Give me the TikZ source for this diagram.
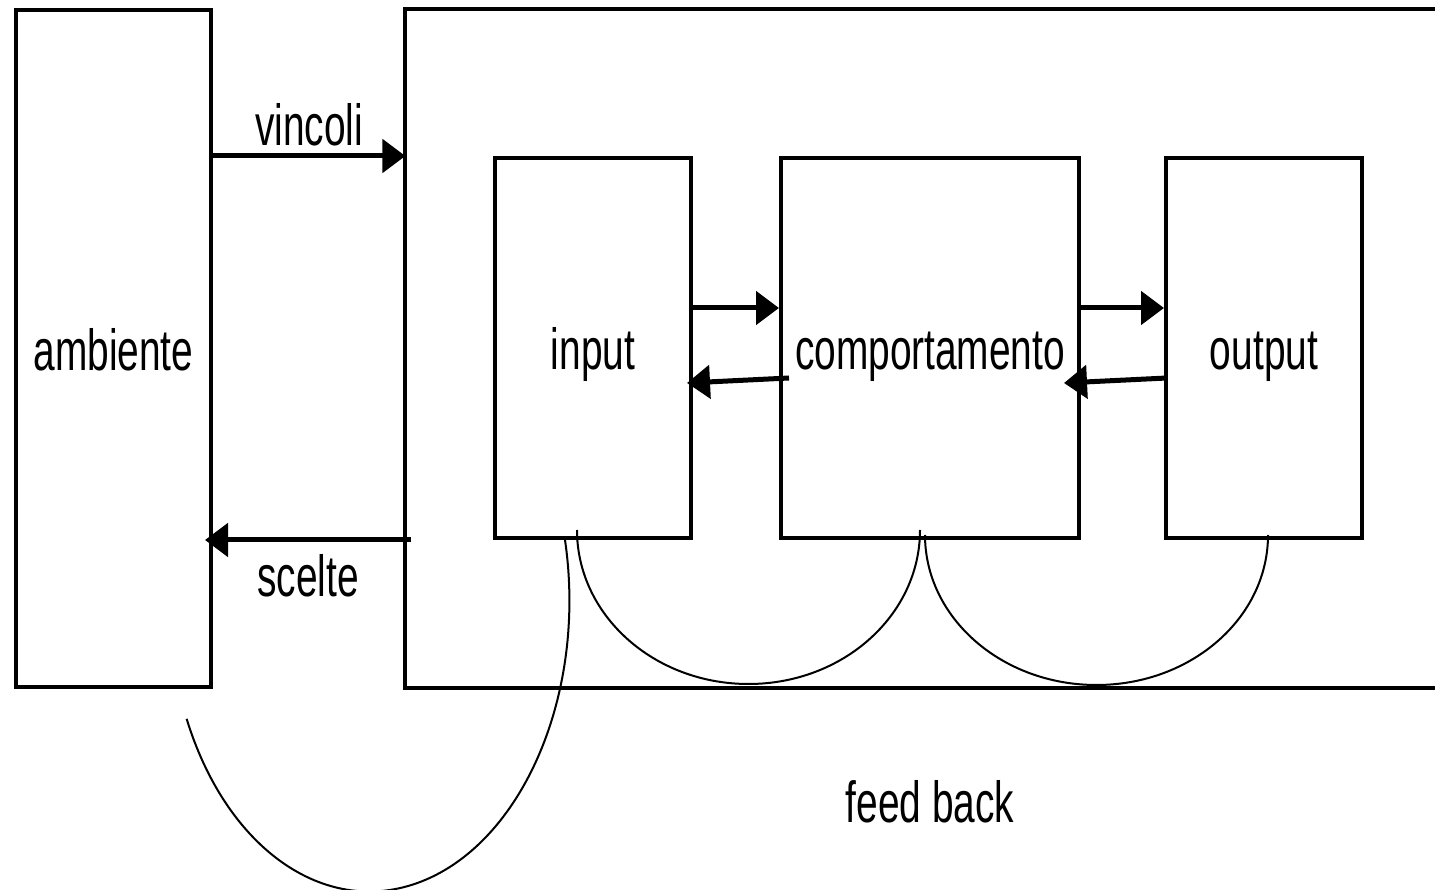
\documentclass[tikz,border=0pt]{standalone}
\usepackage{fontspec}
\setmainfont[FakeStretch=0.67]{Liberation Sans}
\usetikzlibrary{arrows.meta,positioning}

\begin{document}
\begin{tikzpicture}[x=0.5pt, y=0.5pt, semithick,
  box/.style={draw, line width=2pt, inner sep=0pt, minimum height=190pt, text height=28pt, text depth=6pt},
  flow/.style={-{Triangle[length=11.5pt,width=16.5pt]}, line width=2.5pt},
  loop/.style={line width=1pt},
  every node/.style={font=\fontsize{29}{34}\selectfont}]

  \useasboundingbox (0,0) rectangle (1435,889);

  \node[box, minimum width=97.5pt, minimum height=338.5pt] (ambiente) at (113.5,540.5) {ambiente};
  \node[inner sep=0pt, minimum width=514.5pt, minimum height=338.5pt] (sistema) at (920.5,540.5) {};
  \draw[line width=2pt] (sistema.north east) -- (sistema.north west) -- (sistema.south west) -- (sistema.south east);

  \node[box, minimum width=98pt] (input) at (593,541) {input};
  \node[box, minimum width=149pt] (comp) [right=43pt of input] {comportamento};
  \node[box, minimum width=98pt] (output) [right=41.5pt of comp] {output};

  % ambiente <-> sistema
  \draw[flow] (ambiente.east |- input.north) -- node[above=0.5pt] {vincoli} (sistema.west |- input.north);
  \draw[flow] ([xshift=3pt]sistema.west |- input.south) -- node[below=2.5pt] {scelte} ([xshift=-4pt]ambiente.east |- input.south);

  \draw[flow] ([yshift=20pt]input.east) -- ([yshift=20pt]comp.west);
  \draw[flow] ([xshift=5pt,yshift=-15pt]comp.west) -- ([xshift=-3pt,yshift=-17.5pt]input.east);
  \draw[flow] ([yshift=20pt]comp.east) -- ([yshift=20pt]output.west);
  \draw[flow] ([xshift=1.5pt,yshift=-15pt]output.west) -- ([xshift=-8.5pt,yshift=-17.5pt]comp.east);

  % feed back
  \draw[loop] ([xshift=-14pt]input.south) arc[start angle=12, end angle=-156, x radius=100pt, y radius=145.5pt];
  \draw[loop] ([xshift=-8pt,yshift=5pt]input.south) arc[start angle=180, end angle=360, x radius=85.75pt, y radius=77pt];
  \draw[loop] ([xshift=-2.5pt,yshift=2.5pt]comp.south) arc[start angle=180, end angle=360, x radius=85.75pt, y radius=75pt];

  \node (feedback) at (930,87) {feed back};
\end{tikzpicture}
\end{document}
